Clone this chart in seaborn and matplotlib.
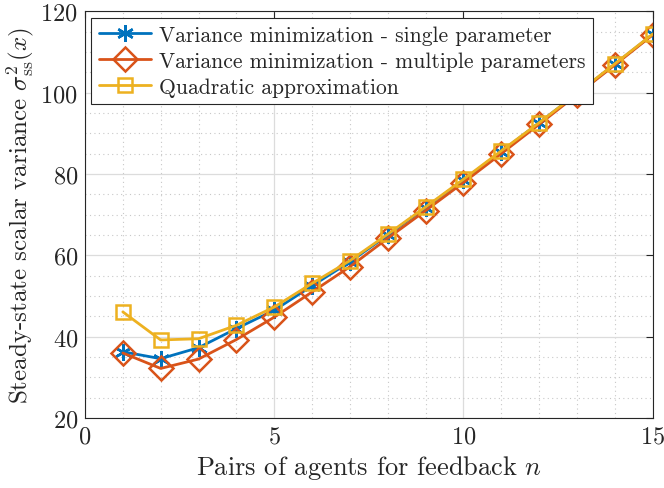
import numpy as np
import pandas as pd
import matplotlib
matplotlib.use("Agg")
import matplotlib.pyplot as plt
import seaborn as sns
from matplotlib.ticker import MultipleLocator

# data
n_pairs = [1, 2, 3, 4, 5, 6, 7, 8, 9, 10, 11, 12, 13, 14, 15]
var_single = [36.3, 34.6, 37.3, 42.0, 46.5, 52.5, 58.4, 65.0, 71.7, 78.5, 85.5, 92.6, 99.7, 107.0, 114.3]
var_multi = [36.0, 32.2, 34.5, 39.3, 44.8, 51.0, 57.2, 64.2, 71.0, 77.9, 85.0, 92.2, 99.5, 106.8, 114.2]
var_quad = [46.1, 39.2, 39.5, 42.8, 47.3, 53.1, 58.7, 65.2, 71.9, 78.7, 85.7, 92.6, 99.8, 107.1, 114.4]

labels = ["Variance minimization - single parameter",
          "Variance minimization - multiple parameters",
          "Quadratic approximation"]

sns.set_style("white")
plt.rcParams["font.family"] = ["cmr10", "DejaVu Serif"]
plt.rcParams["mathtext.fontset"] = "cm"
plt.rcParams["axes.formatter.use_mathtext"] = True

fig = plt.figure(figsize=(6.64, 4.89), dpi=100)
ax = fig.add_axes([0.128, 0.143, 0.855, 0.832])

ax.grid(True, which="major", color="#dcdcdc", lw=0.9, ls="-")
ax.grid(True, which="minor", color="#c8c8c8", lw=0.8, ls=(0, (1, 3)))
ax.set_axisbelow(True)

sns.lineplot(x=n_pairs, y=var_single, ax=ax, color="#0072BD", lw=2,
             marker=(6, 2, 0), markersize=12, markeredgewidth=1.8,
             markeredgecolor="#0072BD", label=labels[0])
sns.lineplot(x=n_pairs, y=var_multi, ax=ax, color="#D95319", lw=2,
             marker="D", markersize=12, markeredgewidth=1.8,
             markerfacecolor="none", markeredgecolor="#D95319", label=labels[1])
sns.lineplot(x=n_pairs, y=var_quad, ax=ax, color="#EDB120", lw=2,
             marker="s", markersize=10, markeredgewidth=1.8,
             markerfacecolor="none", markeredgecolor="#EDB120", label=labels[2])

ax.set_xlim(0, 15)
ax.set_ylim(20, 120)
ax.xaxis.set_major_locator(MultipleLocator(5))
ax.xaxis.set_minor_locator(MultipleLocator(1))
ax.yaxis.set_major_locator(MultipleLocator(20))
ax.yaxis.set_minor_locator(MultipleLocator(5))
ax.tick_params(which="both", direction="in", top=True, right=True,
               labelsize=17.5, colors="#262626", pad=5)
ax.tick_params(which="major", length=5)
ax.tick_params(which="minor", length=0)
for s in ax.spines.values():
    s.set_color("#262626")
    s.set_linewidth(0.8)

ax.set_xlabel(r"Pairs of agents for feedback $n$", fontsize=19, color="#262626",
              labelpad=4)
ax.set_ylabel(r"Steady-state scalar variance $\sigma^2_{\mathrm{ss}}(x)$",
              fontsize=18, color="#262626", labelpad=3)

leg = ax.legend(loc="upper left", fontsize=15.5, frameon=True, fancybox=False,
                framealpha=1, edgecolor="#262626", borderaxespad=0.3,
                handlelength=2.4, labelspacing=0.3, borderpad=0.35,
                handletextpad=0.4)
leg.get_frame().set_linewidth(0.8)

fig.savefig("out.png", dpi=100)
